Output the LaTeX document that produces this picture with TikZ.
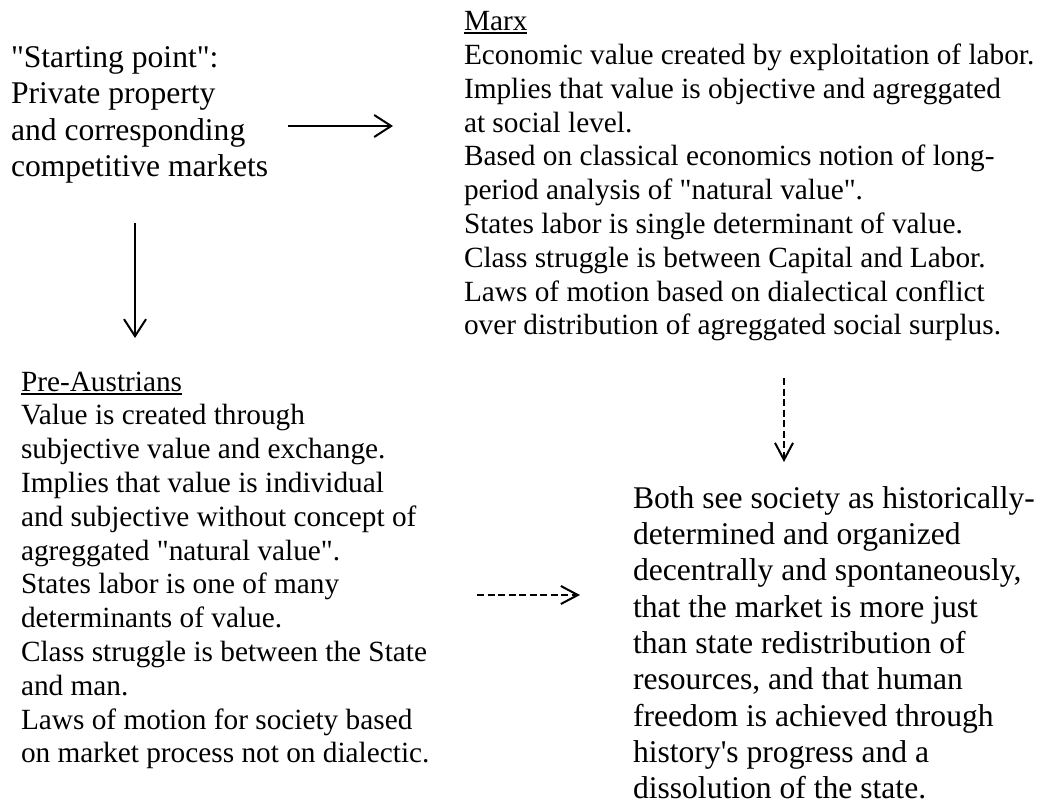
\documentclass[tikz,border=0pt]{standalone}
\usepackage{fontspec}
\setmainfont{Liberation Serif}[Ligatures=TeXOff]
\usetikzlibrary{arrows.meta}
\newcommand{\myul}[1]{\setbox0\hbox{#1}\rlap{\rule[-3.6pt]{\wd0}{1.9pt}}\box0}
\tikzset{
  txt/.style={anchor=base west, inner sep=0pt, outer sep=0pt},
  bigtxt/.style={txt, font=\fontsize{31.6pt}{36.3pt}\selectfont},
  smalltxt/.style={txt, font=\fontsize{29.3pt}{33.8pt}\selectfont},
  solidarrow/.style={line width=2pt, -{Straight Barb[length=17pt,width=22pt]}},
  dasharrow/.style={line width=2pt, dash pattern=on 7pt off 3.5pt, -{Straight Barb[length=17pt,width=18pt]}},
}
\begin{document}
\begin{tikzpicture}[x=1pt,y=-1pt]
\useasboundingbox (0,0) rectangle (1040,805);
\fill[white] (0,0) rectangle (1040,805);

\node[bigtxt] (start) at (11,67.7) {\begin{tabular}[t]{@{}l@{}}
"Starting point":\\
Private property\\
and corresponding\\
competitive markets
\end{tabular}};

\node[smalltxt] (marx) at (464,30.7) {\begin{tabular}[t]{@{}l@{}}
\myul{Marx}\\
Economic value created by exploitation of labor.\\
Implies that value is objective and agreggated\\
at social level.\\
Based on classical economics notion of long-\\
period analysis of "natural value".\\
States labor is single determinant of value.\\
Class struggle is between Capital and Labor.\\
Laws of motion based on dialectical conflict\\
over distribution of agreggated social surplus.
\end{tabular}};

\node[smalltxt] (pre) at (21,391) {\begin{tabular}[t]{@{}l@{}}
\myul{Pre-Austrians}\\
Value is created through\\
subjective value and exchange.\\
Implies that value is individual\\
and subjective without concept of\\
agreggated "natural value".\\
States labor is one of many\\
determinants of value.\\
Class struggle is between the State\\
and man.\\
Laws of motion for society based\\
on market process not on dialectic.
\end{tabular}};

\node[bigtxt] (both) at (633,508.3) {\begin{tabular}[t]{@{}l@{}}
Both see society as historically-\\
determined and organized\\
decentrally and spontaneously,\\
that the market is more just\\
than state redistribution of\\
resources, and that human\\
freedom is achieved through\\
history's progress and a\\
dissolution of the state.
\end{tabular}};

\coordinate (a1s) at (288,126);
\coordinate (a1e) at (393,126);
\coordinate (a2s) at (135,223);
\coordinate (a2e) at (135,338);
\coordinate (a3s) at (784,378);
\coordinate (a3e) at (784,462);
\coordinate (a4s) at (477,595);
\coordinate (a4e) at (580,595);

\draw[solidarrow] (a1s) -- (a1e);
\draw[solidarrow] (a2s) -- (a2e);
\draw[dasharrow] (a3s) -- (a3e);
\draw[dasharrow] (a4s) -- (a4e);
\end{tikzpicture}
\end{document}
